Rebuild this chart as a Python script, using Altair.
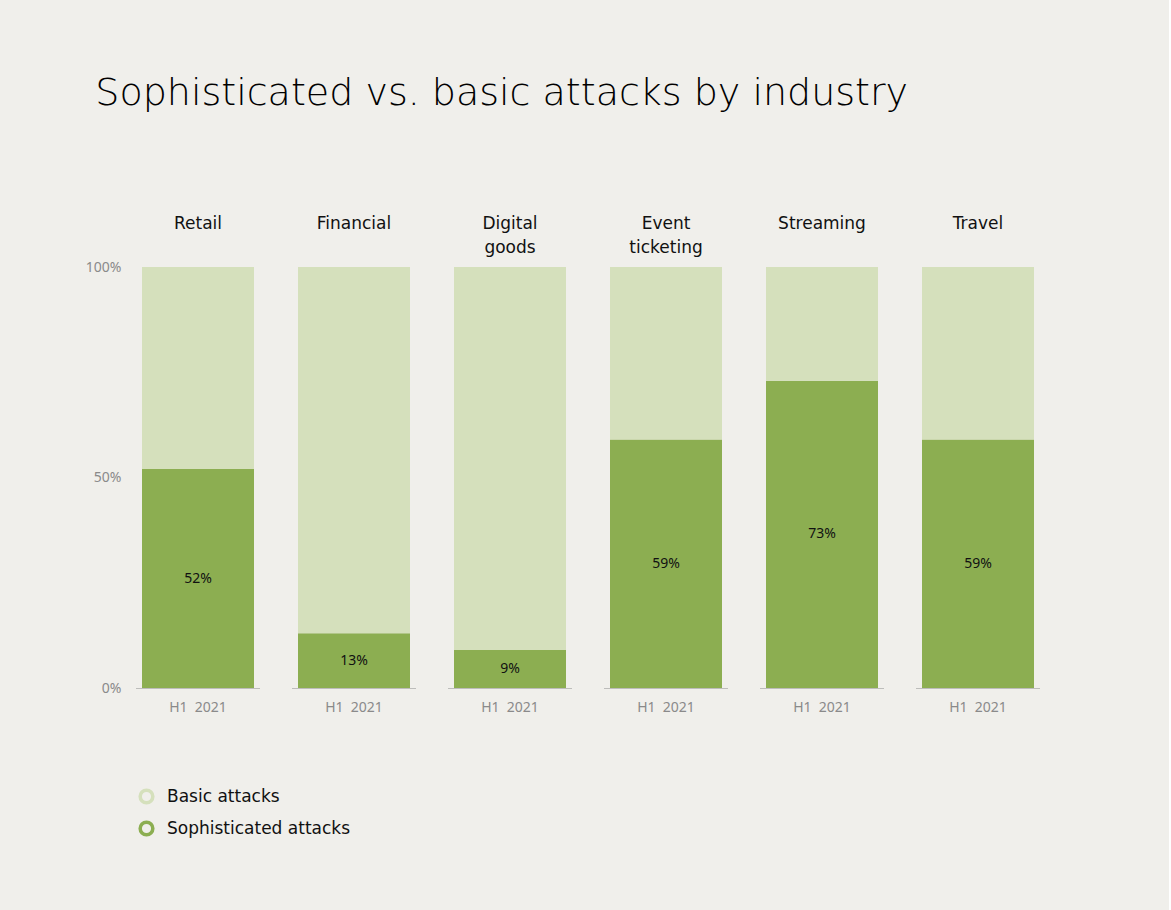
import altair as alt
import pandas as pd

industries = ["Retail", "Financial", "Digital goods", "Event ticketing", "Streaming", "Travel"]
sophisticated = [52, 13, 9, 59, 73, 59]
basic = [48, 87, 91, 41, 27, 41]
period = "H1\u00a0\u00a02021"
series = ["Basic attacks", "Sophisticated attacks"]
colors = ["#d5e0bc", "#8cae51"]

rows = []
for ind, s, b in zip(industries, sophisticated, basic):
    rows.append({"industry": ind, "period": period, "type": "Sophisticated attacks", "value": s})
    rows.append({"industry": ind, "period": period, "type": "Basic attacks", "value": b})
df = pd.DataFrame(rows)

base = alt.Chart().transform_calculate(
    ord="datum.type == 'Sophisticated attacks' ? 0 : 1",
    series="datum.type",
)

bars = base.mark_bar(strokeWidth=0).encode(
    x=alt.X(
        "period:N",
        title=None,
        scale=alt.Scale(paddingInner=0, paddingOuter=6 / 112),
        axis=alt.Axis(
            labelAngle=0,
            ticks=False,
            domainDash=[1, 1],
            domainColor="#8a8a8a",
            domainWidth=1,
            labelColor="#8a8a8a",
            labelFontSize=14,
            labelFont="Noto Sans",
            labelPadding=12,
        ),
    ),
    y=alt.Y(
        "value:Q",
        stack="zero",
        scale=alt.Scale(domain=[0, 100]),
        axis=alt.Axis(
            values=[0, 50, 100],
            labelExpr="datum.value + '%'",
            domain=False,
            ticks=False,
            grid=False,
            title=None,
            labelPadding=15,
            labelColor="#8a8a8a",
            labelFontSize=14,
            labelFont="Noto Sans",
        ),
    ),
    fill=alt.Fill("type:N", scale=alt.Scale(range=colors), legend=None),
    stroke=alt.Stroke(
        "series:N",
        scale=alt.Scale(domain=series, range=colors),
        legend=alt.Legend(
            title=None,
            orient="bottom",
            direction="vertical",
            offset=72,
            symbolType="circle",
            symbolSize=160,
            symbolStrokeWidth=3.5,
            symbolFillColor="transparent",
            labelFontSize=17,
            labelFont="DejaVu Sans",
            labelColor="#111111",
            labelOffset=12,
            labelLimit=400,
            rowPadding=5,
            padding=2,
        ),
    ),
    order=alt.Order("ord:Q"),
)

labels = base.transform_filter(
    "datum.type == 'Sophisticated attacks'"
).transform_calculate(
    mid="datum.value / 2",
    lbl="datum.value + '%'",
).mark_text(fontSize=14, font="Noto Sans", color="#111111").encode(
    x=alt.X("period:N"),
    y=alt.Y("mid:Q"),
    text=alt.Text("lbl:N"),
)

chart = alt.layer(bars, labels, data=df).properties(
    width=124, height=421
).facet(
    column=alt.Column(
        "industry:N",
        sort=industries,
        title=None,
        header=alt.Header(
            labelExpr="indexof(datum.value, ' ') > 0 ? split(datum.value, ' ') : [datum.value, '']",
            labelFontSize=17,
            labelFont="DejaVu Sans",
            labelColor="#111111",
            labelLineHeight=24,
            labelPadding=10,
        ),
    ),
    spacing=32,
).properties(
    title=alt.Title(
        "Sophisticated vs. basic attacks by industry",
        anchor="start",
        fontSize=38,
        font="DejaVu Sans",
        fontWeight=200,
        color="#000000",
        offset=102,
        dx=10,
    ),
    background="#f0efeb",
    padding={"left": 85, "top": 75, "right": 129, "bottom": 70},
).configure_view(stroke=None)

chart.save("out.html", embed_options={"renderer": "svg", "actions": False})
